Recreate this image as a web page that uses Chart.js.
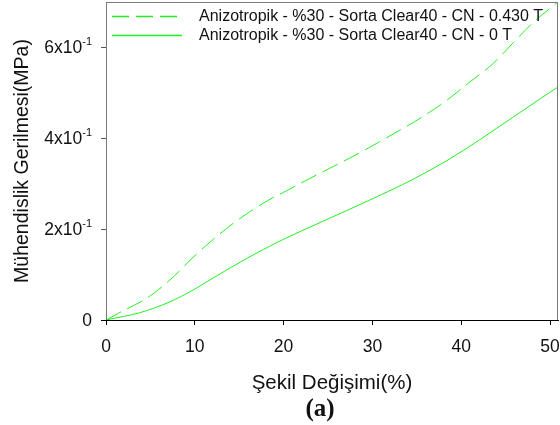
<!DOCTYPE html>
<html><head><meta charset="utf-8">
<script src="https://cdn.jsdelivr.net/npm/chart.js@4/dist/chart.umd.min.js"></script>
<style>html,body{margin:0;padding:0;background:#fff}#wrap{width:560px;height:425px}</style>
</head><body><div id="wrap"><canvas id="c"></canvas></div>
<script>
const seriesLabels = ["Anizotropik - %30 - Sorta Clear40 - CN - 0.430 T", "Anizotropik - %30 - Sorta Clear40 - CN - 0 T"];
const strainA = [0, 1.9, 4.6, 7.2, 9.7, 12.1, 14.7, 18.3, 20, 22.6, 25.2, 27.8, 30.5, 33.1, 35.7, 38.4, 40.9, 43.5, 45.8, 48.1, 50.9];
const stressA = [0, 0.02, 0.048, 0.088, 0.136, 0.178, 0.218, 0.264, 0.281, 0.308, 0.334, 0.36, 0.389, 0.418, 0.448, 0.484, 0.523, 0.563, 0.609, 0.655, 0.70];
const strainB = [0, 2, 3.8, 7.2, 9.8, 12.1, 15.9, 19.6, 24.5, 29.7, 34.6, 38.4, 42.1, 45.8, 48.9, 50.9];
const stressB = [0, 0.008, 0.016, 0.04, 0.066, 0.093, 0.136, 0.174, 0.218, 0.264, 0.310, 0.351, 0.397, 0.446, 0.487, 0.513];
const xTicks = [0, 10, 20, 30, 40, 50];
const xTickLabels = ["0", "10", "20", "30", "40", "50"];
const yTicks = [0, 0.2, 0.4, 0.6];
const yTickBase = ["0", "2x10", "4x10", "6x10"];
const yTickExp = ["", "-1", "-1", "-1"];
const xTitle = "Şekil Değişimi(%)";
const yTitle = "Mühendislik Gerilmesi(MPa)";
const caption = "(a)";

const green = "#22f022";
const SANS = '"Liberation Sans", Arial, sans-serif';
const ptsA = strainA.map((x, i) => ({x, y: stressA[i]}));
const ptsB = strainB.map((x, i) => ({x, y: stressB[i]}));

const decor = {
  id: 'decor',
  afterDraw(chart) {
    const ctx = chart.ctx, a = chart.chartArea;
    ctx.save();
    ctx.strokeStyle = '#7a7a7a'; ctx.lineWidth = 1;
    ctx.beginPath();
    ctx.moveTo(a.left + 0.5, a.bottom); ctx.lineTo(a.left + 0.5, a.top + 0.5);
    ctx.lineTo(a.right - 0.5, a.top + 0.5); ctx.lineTo(a.right - 0.5, a.bottom);
    ctx.stroke();
    ctx.strokeStyle = '#000';
    ctx.beginPath(); ctx.moveTo(a.left - 5, a.bottom + 0.5); ctx.lineTo(a.right, a.bottom + 0.5); ctx.stroke();
    ctx.fillStyle = '#111';
    const ys = chart.scales.y;
    ctx.textBaseline = 'middle';
    yTicks.forEach((v, i) => {
      const py = ys.getPixelForValue(v) + 1;
      const rightEdge = 92;
      ctx.font = '11px ' + SANS;
      const ew = ctx.measureText(yTickExp[i]).width;
      ctx.textAlign = 'right';
      if (yTickExp[i]) ctx.fillText(yTickExp[i], rightEdge, py - 6);
      ctx.font = '17.5px ' + SANS;
      ctx.fillText(yTickBase[i], rightEdge - ew, py);
    });
    const xs = chart.scales.x;
    ctx.textAlign = 'center'; ctx.textBaseline = 'alphabetic';
    ctx.font = '17.5px ' + SANS;
    xTicks.forEach((v, i) => {
      ctx.fillText(xTickLabels[i], xs.getPixelForValue(v), 352);
    });
    ctx.font = '20.5px ' + SANS;
    ctx.fillText(xTitle, (a.left + a.right) / 2, 389);
    ctx.save();
    ctx.translate(27.5, (a.top + a.bottom) / 2);
    ctx.rotate(-Math.PI / 2);
    ctx.font = '19.5px ' + SANS;
    ctx.fillText(yTitle, 0, 0);
    ctx.restore();
    ctx.textAlign = 'left'; ctx.textBaseline = 'middle';
    ctx.font = '16px ' + SANS;
    chart.data.datasets.forEach((ds, i) => {
      const ly = 16 + i * 19;
      ctx.strokeStyle = ds.borderColor; ctx.lineWidth = 1.3;
      ctx.setLineDash(ds.borderDash || []);
      ctx.beginPath(); ctx.moveTo(112, ly + 0.5); ctx.lineTo(182, ly + 0.5); ctx.stroke();
      ctx.setLineDash([]);
      ctx.fillStyle = '#111';
      ctx.fillText(ds.label, 199, ly + 1);
    });
    ctx.font = 'bold 25px "Liberation Serif", "Times New Roman", serif';
    ctx.textAlign = 'center'; ctx.textBaseline = 'alphabetic';
    ctx.fillText(caption, 320, 416);
    ctx.restore();
  }
};

new Chart(document.getElementById('c'), {
  type: 'scatter',
  data: {
    datasets: [
      {label: seriesLabels[0], data: ptsA, showLine: true, borderColor: green, borderWidth: 1, borderDash: [17, 7], pointRadius: 0, cubicInterpolationMode: 'monotone', fill: false},
      {label: seriesLabels[1], data: ptsB, showLine: true, borderColor: green, borderWidth: 1, pointRadius: 0, cubicInterpolationMode: 'monotone', fill: false}
    ]
  },
  options: {
    responsive: true, maintainAspectRatio: false, animation: false,
    layout: {padding: {top: 2, right: 2, left: 0, bottom: 0}},
    plugins: {legend: {display: false}, tooltip: {enabled: false}},
    scales: {
      x: {
        type: 'linear', min: 0, max: 50.9,
        afterBuildTicks: s => { s.ticks = xTicks.map(v => ({value: v})); },
        afterFit: s => { s.height = 105; s.paddingLeft = 0; s.paddingRight = 0; },
        grid: {drawOnChartArea: false, drawTicks: true, tickLength: 5, color: '#000'},
        border: {color: '#000'},
        ticks: {display: false},
        title: {display: false}
      },
      y: {
        type: 'linear', min: 0, max: 0.7,
        afterBuildTicks: s => { s.ticks = yTicks.map(v => ({value: v})); },
        afterFit: s => { s.width = 106; s.paddingTop = 0; s.paddingBottom = 0; },
        grid: {drawOnChartArea: false, drawTicks: true, tickLength: 5, color: '#555'},
        border: {color: '#7a7a7a'},
        ticks: {display: false},
        title: {display: false}
      }
    }
  },
  plugins: [decor]
});
</script></body></html>
